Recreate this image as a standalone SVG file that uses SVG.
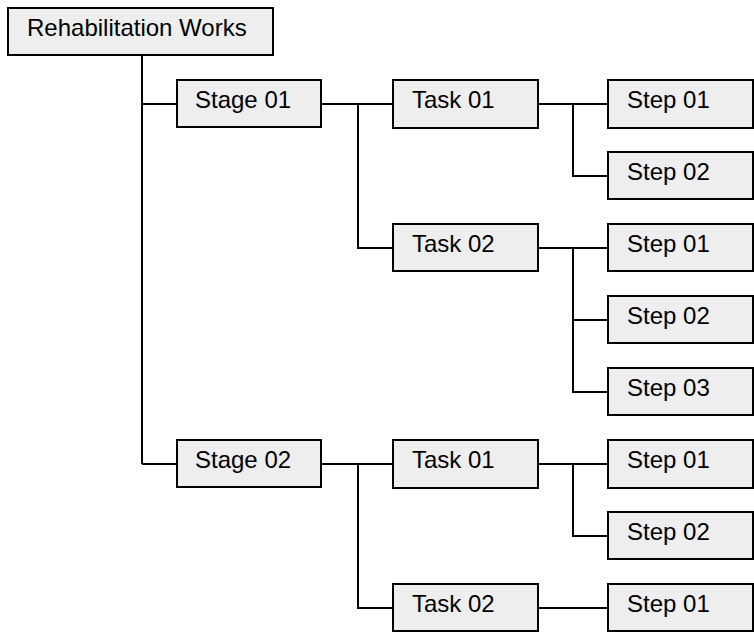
<svg xmlns="http://www.w3.org/2000/svg" width="754" height="632" viewBox="0 0 754 632">
<style>
.box{fill:#eeeeee;stroke:#000;stroke-width:2}
.t{font-family:"Liberation Sans",Arial,sans-serif;font-size:24px;fill:#000}
.c{fill:none;stroke:#000;stroke-width:2}
</style>
<rect width="754" height="632" fill="#fff"/>
<g id="connectors">
<path class="c" d="M142 55V464M142 104H177M142 464H177"/>
<path class="c" d="M321 104H393M358 104V248H393"/>
<path class="c" d="M538 104H608M573 104V176H608"/>
<path class="c" d="M538 248H608M573 248V392H608M573 320H608"/>
<path class="c" d="M321 464H393M358 464V608H393"/>
<path class="c" d="M538 464H608M573 464V536H608"/>
<path class="c" d="M538 608H608"/>
</g>
<g id="root"><rect class="box" x="8" y="8" width="265" height="47"/><text class="t" x="27" y="36">Rehabilitation Works</text></g>
<g id="stage1"><rect class="box" x="177" y="80" width="144" height="47"/><text class="t" x="195" y="108">Stage 01</text></g>
<g id="s1task1"><rect class="box" x="393" y="80" width="145" height="48"/><text class="t" x="412" y="108">Task 01</text></g>
<g id="s1t1step1"><rect class="box" x="608" y="80" width="145" height="48"/><text class="t" x="627" y="108">Step 01</text></g>
<g id="s1t1step2"><rect class="box" x="608" y="152" width="145" height="47"/><text class="t" x="627" y="180">Step 02</text></g>
<g id="s1task2"><rect class="box" x="393" y="224" width="145" height="47"/><text class="t" x="412" y="252">Task 02</text></g>
<g id="s1t2step1"><rect class="box" x="608" y="224" width="145" height="47"/><text class="t" x="627" y="252">Step 01</text></g>
<g id="s1t2step2"><rect class="box" x="608" y="296" width="145" height="47"/><text class="t" x="627" y="324">Step 02</text></g>
<g id="s1t2step3"><rect class="box" x="608" y="368" width="145" height="47"/><text class="t" x="627" y="396">Step 03</text></g>
<g id="stage2"><rect class="box" x="177" y="440" width="144" height="47"/><text class="t" x="195" y="468">Stage 02</text></g>
<g id="s2task1"><rect class="box" x="393" y="440" width="145" height="48"/><text class="t" x="412" y="468">Task 01</text></g>
<g id="s2t1step1"><rect class="box" x="608" y="440" width="145" height="48"/><text class="t" x="627" y="468">Step 01</text></g>
<g id="s2t1step2"><rect class="box" x="608" y="512" width="145" height="47"/><text class="t" x="627" y="540">Step 02</text></g>
<g id="s2task2"><rect class="box" x="393" y="584" width="145" height="47"/><text class="t" x="412" y="612">Task 02</text></g>
<g id="s2t2step1"><rect class="box" x="608" y="584" width="145" height="47"/><text class="t" x="627" y="612">Step 01</text></g>
</svg>
